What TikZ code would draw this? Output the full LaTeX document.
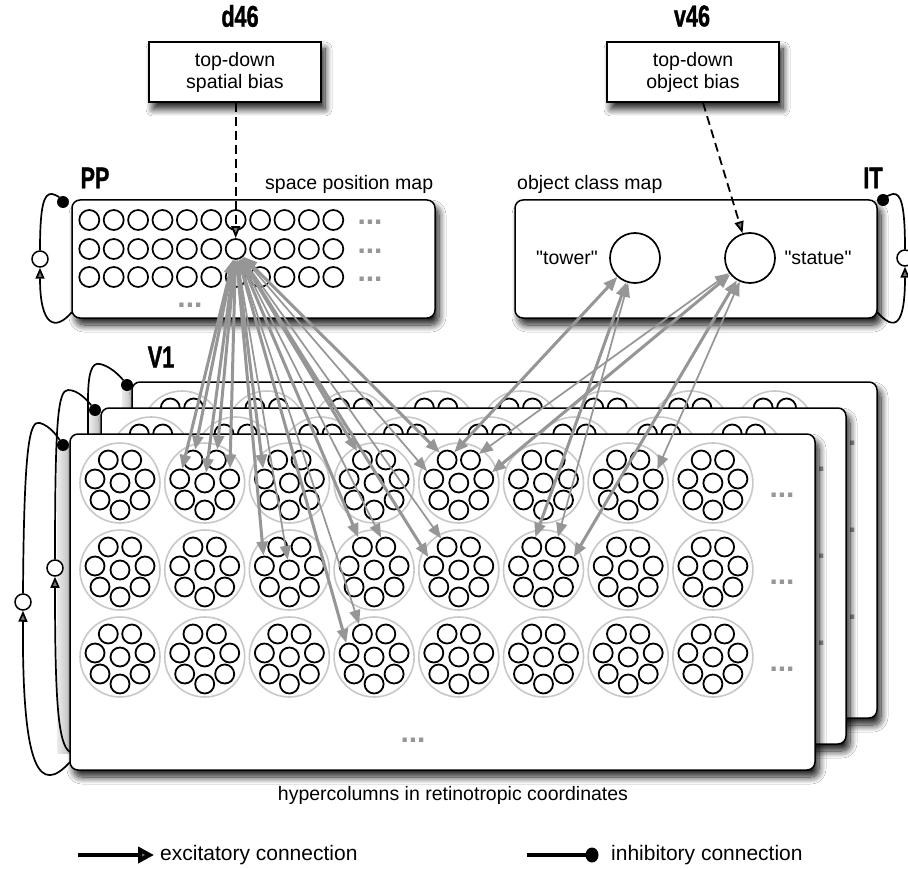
\documentclass[tikz,border=0pt]{standalone}
\usepackage{fontspec}
\setmainfont{Liberation Sans}
\newfontfamily\headfont{Liberation Sans}[FakeStretch=0.72,FakeBold=1.2]
\usetikzlibrary{arrows.meta,shadows.blur,shapes.geometric}
\definecolor{linkgray}{RGB}{150,150,150}
\definecolor{ringgray}{RGB}{200,200,200}
\definecolor{dotgray}{RGB}{150,150,150}
\newcommand\labfont{\fontsize{19.5}{22}\selectfont}
\newcommand\legfont{\fontsize{21}{24}\selectfont}
\newcommand\headsize{\headfont\bfseries\fontsize{30}{32}\selectfont}
\tikzset{
 shad/.style={blur shadow={shadow xshift=4pt, shadow yshift=-7pt, shadow blur steps=12, shadow opacity=90, shadow blur radius=7pt}},
 panel/.style={draw, line width=1.5pt, fill=white, rounded corners=8pt, shad},
 sqbox/.style={draw, line width=1.5pt, fill=white, shad, align=center, font=\labfont, inner sep=0pt, minimum width=172pt, minimum height=60pt},
 cell/.style={circle, draw, line width=1.7pt, minimum size=20pt, inner sep=0pt},
 ring/.style={circle, draw=ringgray, line width=1.6pt, minimum size=80pt, inner sep=0pt},
 unit/.style={circle, draw, line width=1.8pt, minimum size=19pt, inner sep=0pt},
 more/.style={text=dotgray, font=\bfseries\fontsize{30}{30}\selectfont, inner sep=0pt, anchor=base},
 headlbl/.style={font=\headsize, inner sep=0pt},
 lab/.style={font=\labfont, inner sep=0pt},
 leg/.style={font=\legfont, inner sep=0pt, anchor=west},
 link/.style={draw=linkgray, line width=3pt, {Triangle[length=14pt,width=11pt]}-{Triangle[length=14pt,width=11pt]}},
 thinlink/.style={link, line width=1.7pt},
 exc/.style={draw, line width=1.7pt, -{Triangle[length=11pt,width=9pt]}},
 inh/.style={draw, line width=1.7pt},
 inhdot/.style={circle, fill, inner sep=0pt, minimum size=12pt},
 loopc/.style={circle, draw, line width=1.5pt, fill=white, minimum size=16pt, inner sep=0pt},
 strip/.style={left color=gray!15, right color=gray!50},
 bias/.style={draw, line width=1.8pt, dash pattern=on 9pt off 5pt, -{Triangle[length=12pt,width=9pt]}},
}
\newcommand\drawlayer[3]{%
 \draw[panel] (70+#2,434+#3) rectangle (815+#2,770+#3);
 \foreach \c in {1,...,8} {
  \foreach \r in {1,2,3} {
   \pgfmathsetmacro\hx{120+84.7*(\c-1)+#2}
   \pgfmathsetmacro\hy{483+87*(\r-1)+#3}
   \node[ring] (r#1-\c-\r) at (\hx,\hy) {};
   \foreach \k/\ox/\oy in {1/-11.7/-23, 2/11.7/-23, 3/-25/-4, 4/0/0, 5/25/-4, 6/-20/17, 7/20/17, 8/0/27} {
     \node[unit] (h#1-\c-\r-\k) at (\hx+\ox,\hy+\oy) {};
   }
  }
 }
 \foreach \r in {1,2,3} {
   \pgfmathsetmacro\hy{497+87*(\r-1)+#3}
   \node[more] (m#1-\r) at (782+#2,\hy) {...};
 }
 \node[more] (mb#1) at (413+#2,742+#3) {...};
}
\begin{document}
\begin{tikzpicture}[x=1pt,y=-1pt]
\fill[white] (0,0) rectangle (908,869);
\useasboundingbox (0,0) rectangle (908,869);

% ---------- top boxes ----------
\node[headlbl] (d46) at (240,16) {d46};
\node[headlbl] (v46) at (692,16) {v46};
\node[sqbox] (d46box) at (235,72) {top-down\\spatial bias};
\node[sqbox] (v46box) at (693,72) {top-down\\object bias};

% ---------- PP ----------
\draw[panel] (72,200) rectangle (435,318);
\node[headlbl] (ppl) at (95,178) {PP};
\node[lab, anchor=west] (ppt) at (265,184) {space position map};
\foreach \r/\y in {1/220,2/249,3/277} {
  \foreach \c in {1,...,11} {
    \node[cell] (pp-\r-\c) at (89.3+24.4*\c-24.4,\y) {};
  }
  \node[more] (ppm-\r) at (370,\y+5) {...};
}
\node[more] (ppmb) at (190,307) {...};
\node[loopc] (lpP) at (40,259) {};
\node[inhdot] (dP) at (63,202) {};
\coordinate (fP) at (72,312);
\draw[exc] (fP) .. controls (55,332) and (40,326) .. (lpP.south);
\draw[inh] (lpP.north) .. controls (40,205) and (44,193) .. (52,194) .. controls (57,195) and (60,198) .. (dP);

% ---------- IT ----------
\draw[panel] (515,200) rectangle (877,318);
\node[headlbl] (itl) at (873,178) {IT};
\node[lab, anchor=west] (itt) at (517,184) {object class map};
\node[circle, draw, line width=1.7pt, minimum size=50pt, inner sep=0pt] (tw) at (635,258) {};
\node[circle, draw, line width=1.7pt, minimum size=50pt, inner sep=0pt] (st) at (750,258) {};
\node[lab] (twl) at (567,258) {\textquotedbl tower\textquotedbl};
\node[lab] (stl) at (818,258) {\textquotedbl statue\textquotedbl};
\node[loopc] (lpI) at (905,258) {};
\node[inhdot] (dI) at (883,200) {};
\coordinate (fI) at (877,312);
\draw[exc] (fI) .. controls (895,332) and (905,326) .. (lpI.south);
\draw[inh] (lpI.north) .. controls (905,205) and (901,193) .. (893,194) .. controls (888,195) and (885,198) .. (dI);

% ---------- top-down biases ----------
\draw[bias] (d46box.south -| pp-2-7) -- (pp-2-7.north);
\draw[bias] ([xshift=10pt]v46box.south) -- (st);

% ---------- V1 ----------
\node[headlbl] (v1l) at (161,357) {V1};
\fill[strip] (122,385) rectangle (132,700);
\drawlayer{2}{62}{-52}
\fill[strip] (89,410) rectangle (100,727);
\drawlayer{1}{31}{-26}
% back loop
\node[inhdot] (dB) at (127,385) {};
\coordinate (fB) at (88,520);
\draw[inh] (fB) -- (88,400) .. controls (88,372) and (92,362) .. (100,364) .. controls (110,366) and (120,376) .. (dB);
% middle loop
\fill[strip] (57,445) rectangle (70,753);
\node[loopc] (lpM) at (55,568) {};
\node[inhdot] (dM) at (95,410) {};
\coordinate (fM) at (70,752);
\draw[exc] (fM) .. controls (58,745) and (55,700) .. (lpM.south);
\draw[inh] (lpM.north) .. controls (55,420) and (58,390) .. (68,390) .. controls (78,390) and (87,400) .. (dM);
\drawlayer{0}{0}{0}
% front loop
\node[loopc] (lpF) at (23,602) {};
\node[inhdot] (dF) at (63,445) {};
\coordinate (fF) at (70,762);
\draw[exc] (fF) .. controls (40,795) and (22,772) .. (lpF.south);
\draw[inh] (lpF.north) .. controls (24,440) and (30,420) .. (40,423) .. controls (50,426) and (57,436) .. (dF);
\node[lab] (cap) at (453,795) {hypercolumns in retinotropic coordinates};

% ---------- PP <-> V1 links ----------
\foreach \t in {2-1-1,2-1-2,2-1-3,2-1-4,2-1-5,3-1-3,3-2-3,4-1-1,4-2-1,4-3-3,5-1-1,5-2-3}
  \draw[link] (pp-2-7) -- (h0-\t);
\foreach \t in {3-2-4,4-3-1,4-2-2,5-1-3,5-2-1}
  \draw[thinlink] (pp-2-7) -- (h0-\t);

% ---------- IT <-> V1 links ----------
\foreach \t in {5-1-1,6-2-1}
  \draw[link] (tw) -- (h0-\t);
\foreach \t in {6-2-2}
  \draw[thinlink] (tw) -- (h0-\t);
\foreach \t in {5-1-5,6-2-5}
  \draw[link] (st) -- (h0-\t);
\foreach \t in {5-1-2,7-1-5}
  \draw[thinlink] (st) -- (h0-\t);

% ---------- legend ----------
\coordinate (lgA) at (78,855);
\node[leg] (lgE) at (160,855) {excitatory connection};
\draw[line width=4pt, -{Triangle[length=16pt,width=16pt]}] (lgA) -- ([xshift=-6pt]lgE.west);
\coordinate (lgB) at (527,855);
\node[inhdot, ellipse, minimum width=13pt, minimum height=15pt] (lgD) at (592,855) {};
\node[leg] (lgI) at (611,855) {inhibitory connection};
\draw[line width=4pt] (lgB) -- (lgD.center);
\end{tikzpicture}
\end{document}
